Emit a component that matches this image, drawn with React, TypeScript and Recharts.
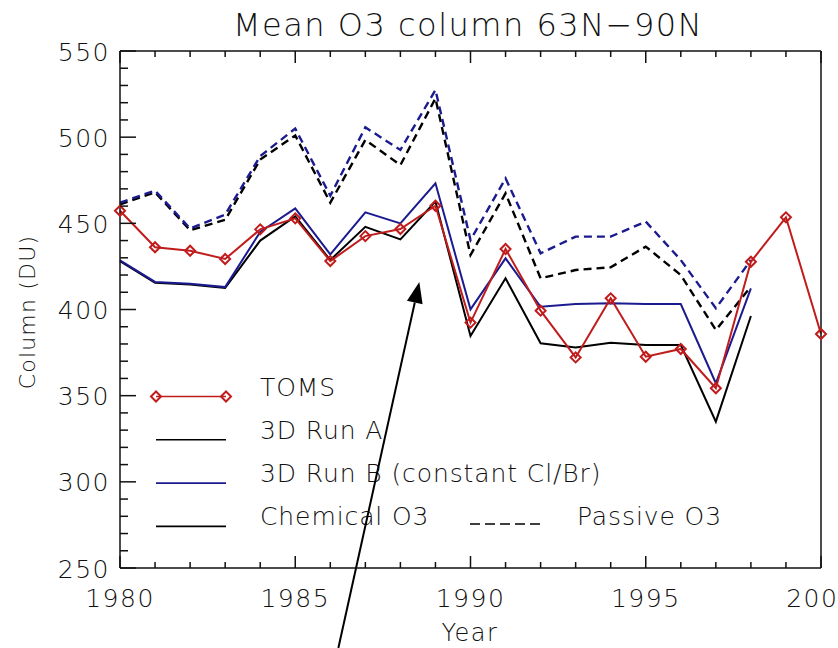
import React from 'react'
import { LineChart, Line, XAxis, YAxis, ReferenceLine } from 'recharts'

const years = [1980, 1981, 1982, 1983, 1984, 1985, 1986, 1987, 1988, 1989, 1990, 1991, 1992, 1993, 1994, 1995, 1996, 1997, 1998, 1999, 2000]

// TOMS observations (DU)
const toms = [457.3, 436.1, 434.1, 429.3, 446.5, 452.9, 428.1, 442.6, 446.7, 460.2, 392.4, 435.1, 399.3, 372.2, 406.5, 372.6, 377.1, 354.3, 427.7, 453.5, 385.8]

// 3D model runs, 1980-1998 only
const runAChemical = [428, 415.5, 414.5, 412.5, 440, 454, 428.7, 448, 440.7, 462.6, 384.6, 418.1, 380.4, 378, 380.7, 379.4, 379.4, 334.9, 396.2, null, null]
const runAPassive = [461, 468, 446, 452, 487, 501, 462, 498.4, 483.8, 522.5, 431.6, 467.4, 418.1, 422.9, 424.5, 436.5, 420, 388.1, 413.2, null, null]
const runBChemical = [428.5, 416, 415, 413, 445, 458.7, 432, 456.4, 450, 473.2, 400.1, 429.7, 401.6, 403.2, 403.6, 403.2, 403.2, 357.2, 412.3, null, null]
const runBPassive = [462, 469, 447, 455, 489, 505, 466, 505.7, 492.6, 527.4, 440.3, 476.1, 432.6, 442.3, 442.3, 451, 428.7, 400.7, 428.7, null, null]

const yTicks = [250, 260, 270, 280, 290, 300, 310, 320, 330, 340, 350, 360, 370, 380, 390, 400, 410, 420, 430, 440, 450, 460, 470, 480, 490, 500, 510, 520, 530, 540, 550]
const yLabels = [250, 300, 350, 400, 450, 500, 550]
const xTicks = years
const xLabels = [1980, 1985, 1990, 1995, 2000]

// annotation arrow (tail, tip) in data units
const arrowTail = { x: 1986.23, y: 203.6 }
const arrowTip = { x: 1988.54, y: 416 }

const data = years.map((year, i) => ({
  year,
  toms: toms[i],
  runAChemical: runAChemical[i],
  runAPassive: runAPassive[i],
  runBChemical: runBChemical[i],
  runBPassive: runBPassive[i],
}))

const W = 838
const H = 648
const INK = '#111'
const RED = '#c01c1c'
const NAVY = '#1b1b8f'
const FONT = '"DejaVu Sans", sans-serif'
const textStyle: React.CSSProperties = { fontFamily: FONT, fontWeight: 200, letterSpacing: '1.5px' }
const legendText: React.CSSProperties = { ...textStyle, letterSpacing: '0.9px' }

function LeftTick({ x, y, payload }: any) {
  const major = yLabels.includes(payload.value)
  return (
    <g>
      <line x1={x} x2={x + (major ? 16 : 8)} y1={y} y2={y} stroke={INK} strokeWidth={1.5} />
      {major && (
        <text x={x - 10} y={y} dy="0.38em" textAnchor="end" fontSize={25} fill={INK} style={textStyle}>
          {payload.value}
        </text>
      )}
    </g>
  )
}

function RightTick({ x, y, payload }: any) {
  const major = yLabels.includes(payload.value)
  return <line x1={x} x2={x - (major ? 16 : 8)} y1={y} y2={y} stroke={INK} strokeWidth={1.5} />
}

function BottomTick({ x, y, payload }: any) {
  const major = xLabels.includes(payload.value)
  return (
    <g>
      <line x1={x} x2={x} y1={y} y2={y - (major ? 12 : 6)} stroke={INK} strokeWidth={1.5} />
      {major && (
        <text x={x} y={y + 39} textAnchor="middle" fontSize={25} fill={INK} style={textStyle}>
          {payload.value}
        </text>
      )}
    </g>
  )
}

function TopTick({ x, y, payload }: any) {
  const major = xLabels.includes(payload.value)
  return <line x1={x} x2={x} y1={y} y2={y + (major ? 12 : 6)} stroke={INK} strokeWidth={1.5} />
}

function Diamond({ cx, cy }: any) {
  if (cx == null || cy == null) return null
  const r = 5
  return (
    <polygon
      points={`${cx - r},${cy} ${cx},${cy - r} ${cx + r},${cy} ${cx},${cy + r}`}
      fill="none"
      stroke={RED}
      strokeWidth={2}
    />
  )
}

function ArrowShape({ x1, y1, x2, y2 }: any) {
  const a = Math.atan2(y2 - y1, x2 - x1)
  const len = 21
  const half = 8
  const bx = x2 - len * Math.cos(a)
  const by = y2 - len * Math.sin(a)
  const px = -Math.sin(a) * half
  const py = Math.cos(a) * half
  return (
    <g>
      <line x1={x1} y1={y1} x2={bx} y2={by} stroke="#000" strokeWidth={2} />
      <polygon points={`${x2},${y2} ${bx + px},${by + py} ${bx - px},${by - py}`} fill="#000" />
    </g>
  )
}

const legendRows = [
  { label: 'TOMS', color: RED, marker: true },
  { label: '3D Run A', color: '#000', marker: false },
  { label: '3D Run B (constant Cl/Br)', color: NAVY, marker: false },
  { label: 'Chemical O3', color: '#000', marker: false },
]

function Decorations() {
  return (
    <svg width={W} height={H} style={{ position: 'absolute', left: 0, top: 0 }}>
      <text x={468} y={36} textAnchor="middle" fontSize={32} fill={INK} style={textStyle}>
        Mean O3 column 63N−90N
      </text>
      <text
        x={0}
        y={0}
        transform="translate(35, 312) rotate(-90)"
        textAnchor="middle"
        fontSize={22}
        fill={INK}
        style={{ ...textStyle, letterSpacing: '1.2px' }}
      >
        Column (DU)
      </text>
      <text x={470} y={641} textAnchor="middle" fontSize={24} fill={INK} style={textStyle}>
        Year
      </text>
      {legendRows.map((row, i) => {
        const ly = 396.5 + i * 43.3
        return (
          <g key={row.label}>
            <line x1={156} x2={226} y1={ly} y2={ly} stroke={row.color} strokeWidth={1.6} />
            {row.marker && <Diamond cx={156} cy={ly} />}
            {row.marker && <Diamond cx={226} cy={ly} />}
            <text x={260} y={ly - 1} fontSize={25} fill={INK} style={legendText}>
              {row.label}
            </text>
          </g>
        )
      })}
      <line x1={470} x2={540} y1={524} y2={524} stroke="#000" strokeWidth={1.6} strokeDasharray="10 5" />
      <text x={577} y={525} fontSize={25} fill={INK} style={legendText}>
        Passive O3
      </text>
    </svg>
  )
}

const axisLine = { stroke: INK, strokeWidth: 1.5 }

export default function App() {
  return (
    <div style={{ position: 'absolute', left: 0, top: 0, width: W, height: H, background: '#fff' }}>
      <Decorations />
      <div style={{ position: 'absolute', left: 0, top: 0 }}>
        <LineChart width={W} height={H} data={data} margin={{ top: 50, right: 16, bottom: 20, left: 20 }}>
          <XAxis
            dataKey="year"
            type="number"
            domain={[1980, 2000]}
            ticks={xTicks}
            interval={0}
            tickSize={0}
            tickMargin={0}
            height={60}
            axisLine={axisLine}
            tickLine={false}
            tick={<BottomTick />}
          />
          <XAxis
            xAxisId="top"
            orientation="top"
            dataKey="year"
            type="number"
            domain={[1980, 2000]}
            ticks={xTicks}
            interval={0}
            tickSize={0}
            tickMargin={0}
            height={1}
            axisLine={axisLine}
            tickLine={false}
            tick={<TopTick />}
          />
          <YAxis
            type="number"
            domain={[250, 550]}
            ticks={yTicks}
            interval={0}
            tickSize={0}
            tickMargin={0}
            width={100}
            axisLine={axisLine}
            tickLine={false}
            tick={<LeftTick />}
          />
          <YAxis
            yAxisId="right"
            orientation="right"
            type="number"
            domain={[250, 550]}
            ticks={yTicks}
            interval={0}
            tickSize={0}
            tickMargin={0}
            width={1}
            axisLine={axisLine}
            tickLine={false}
            tick={<RightTick />}
          />
          <Line dataKey="runAPassive" stroke="#000" strokeWidth={2.4} strokeDasharray="8 5" dot={false} isAnimationActive={false} />
          <Line dataKey="runBPassive" stroke={NAVY} strokeWidth={2.4} strokeDasharray="8 5" dot={false} isAnimationActive={false} />
          <Line dataKey="runAChemical" stroke="#000" strokeWidth={2} dot={false} isAnimationActive={false} />
          <Line dataKey="runBChemical" stroke={NAVY} strokeWidth={2} dot={false} isAnimationActive={false} />
          <Line dataKey="toms" stroke={RED} strokeWidth={2} dot={<Diamond />} isAnimationActive={false} />
          <ReferenceLine
            segment={[arrowTail, arrowTip]}
            ifOverflow="visible"
            shape={<ArrowShape />}
          />
        </LineChart>
      </div>
    </div>
  )
}
